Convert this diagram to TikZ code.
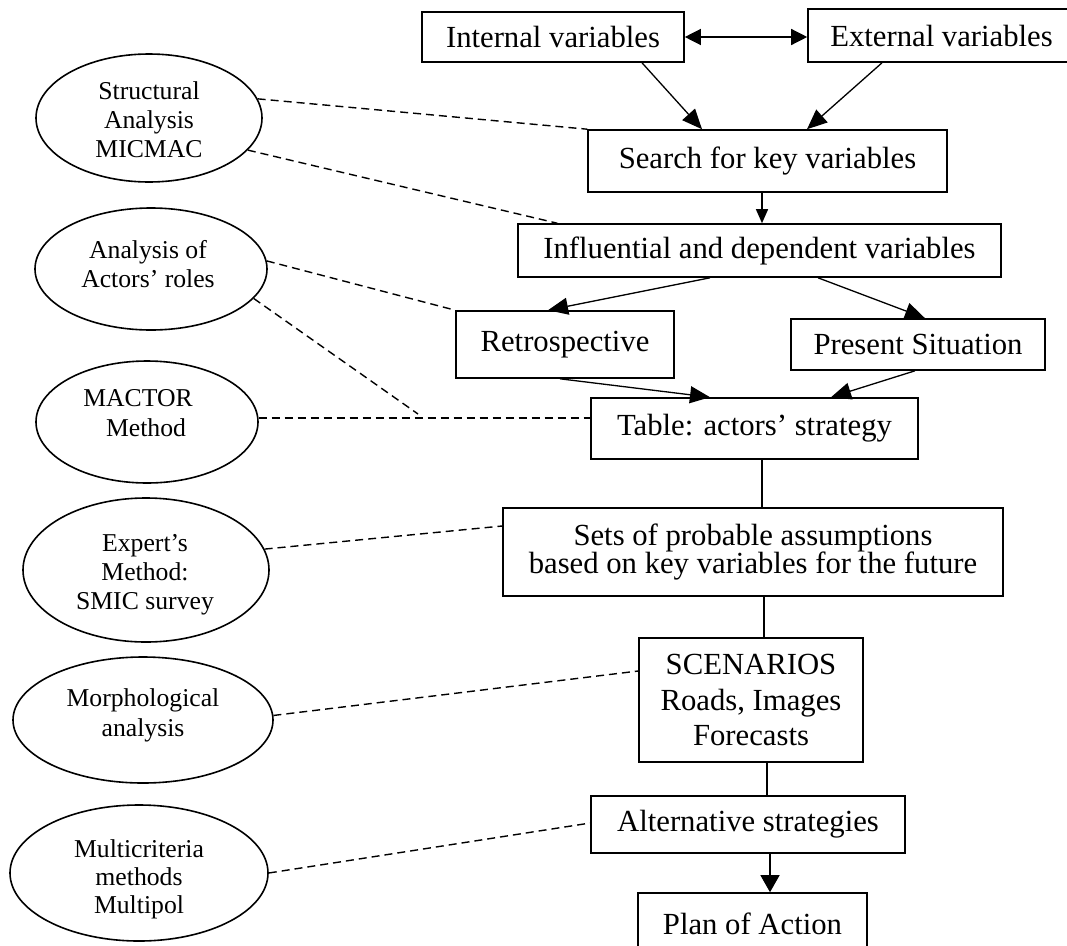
\documentclass[tikz,border=0pt]{standalone}
\usepackage{fontspec}
\setmainfont{Liberation Serif}
\usetikzlibrary{arrows.meta,calc,shapes.geometric}
\newcommand\mytightlines{\lineskiplimit=-30pt\relax}
\begin{document}
\begin{tikzpicture}[x=1pt,y=-1pt,
  box/.style={draw,line width=1.6pt,inner sep=0pt,align=center,font=\fontsize{30.7}{35.5}\selectfont},
  oval/.style={draw,ellipse,line width=1.6pt,inner sep=0pt},
  otext/.style={inner sep=0pt,align=center,font=\fontsize{25.7}{29}\selectfont},
  link/.style={line width=1.3pt},
  arr/.style={line width=1.3pt,-{Triangle[length=20pt,width=17pt]}},
  dashline/.style={line width=1.4pt,dash pattern=on 8pt off 5pt}]
\clip (0,0) rectangle (1067,945);
\fill[white] (0,0) rectangle (1067,945);
% flow boxes
\node[box,minimum width=262pt,minimum height=50pt] (int) at (553,37) {Internal variables};
\node[box,minimum width=267pt,minimum height=53pt] (ext) at (941.5,35.5) {External variables};
\node[box,minimum width=359pt,minimum height=62pt] (search) at (767.5,161) {Search for key variables};
\node[box,minimum width=483pt,minimum height=53pt] (infl) at (759.5,250.5) {Influential and dependent variables};
\node[box,minimum width=218pt,minimum height=67pt] (retro) at (565,344.5) {Retrospective};
\node[box,minimum width=254pt,minimum height=51pt] (pres) at (918,344.5) {Present Situation};
\node[box,minimum width=327pt,minimum height=61pt] (table) at (754.5,428.5) {Table: actors’ strategy};
\node[box,minimum width=500pt,minimum height=88pt,font={\fontsize{30.7}{28}\selectfont\mytightlines}] (sets) at (753,552) {Sets of probable assumptions\\based on key variables for the future};
\node[box,minimum width=224pt,minimum height=124pt] (scen) at (751,700) {SCENARIOS\\Roads, Images\\Forecasts};
\node[box,minimum width=314pt,minimum height=57pt] (alt) at (748,824.5) {Alternative strategies};
\node[box,minimum width=229pt,minimum height=62pt] (plan) at (752.5,924) {Plan of Action};
% method ellipses
\node[oval,minimum width=226pt,minimum height=128pt] (struct) at (149,118) {};
\begin{scope}
\clip (20,60) rectangle (280,157);
\node[otext] (structtxt) at (149,120) {Structural\\Analysis\\MICMAC};
\end{scope}
\node[oval,minimum width=232pt,minimum height=122pt] (analysis) at (151,269) {};
\node[otext] (analysistxt) at (148,264) {Analysis of\\Actors’ roles};
\node[oval,minimum width=222pt,minimum height=122pt] (mactor) at (147,422) {};
\node[otext,font=\fontsize{25.7}{30}\selectfont] (mactortxt) at (146,413) {\hbox{MACTOR\kern16pt}\\Method};
\node[oval,minimum width=246pt,minimum height=144pt] (expert) at (146,570) {};
\node[otext] (experttxt) at (145,575) {Expert’s\\Method:\\SMIC survey};
\node[oval,minimum width=260pt,minimum height=126pt] (morph) at (143,720) {};
\node[otext,font=\fontsize{25.7}{30}\selectfont] (morphtxt) at (143,715.5) {Morphological\\analysis};
\node[oval,minimum width=258pt,minimum height=136pt] (multi) at (139,873) {};
\node[otext,font=\fontsize{25.7}{28}\selectfont] (multitxt) at (139,879) {Multicriteria\\methods\\Multipol};
% dashed links
\draw[dashline] (struct.10) -- (search.north west);
\draw[dashline] (struct.-18) -- ([xshift=40pt]infl.north west);
\draw[dashline] (analysis.4) -- (retro.north west);
\coordinate (mj) at (418,414);
\draw[dashline] (analysis.-16) -- (mj);
\draw[dashline] (mactor.2) -- (mactor.2 -| table.west);
\draw[dashline] (expert.10) -- ([yshift=26pt]sets.west);
\draw[dashline] (morph.2) -- ([yshift=29pt]scen.west);
\draw[dashline] (multi.east) -- ([yshift=1.5pt]alt.west);
% arrows
\draw[arr,{Triangle[length=16pt,width=16pt]}-{Triangle[length=16pt,width=16pt]}] (int.east) -- (int.east -| ext.west);
\draw[arr] ([xshift=89pt]int.south) -- ([xshift=-65.5pt]search.north);
\draw[arr] ([xshift=-59.5pt]ext.south) -- ([xshift=39.5pt]search.north);
\draw[arr,-{Triangle[length=14pt,width=12pt]}] ([xshift=-5.5pt]search.south) -- ([xshift=-5.5pt]search.south |- infl.north);
\draw[arr] ([xshift=-49.5pt]infl.south) -- ([xshift=-17pt]retro.north);
\draw[arr] ([xshift=58.5pt]infl.south) -- ([xshift=7pt]pres.north);
\draw[arr] ([xshift=-5pt]retro.south) -- ([xshift=-44.5pt]table.north);
\draw[arr] ([xshift=-3pt]pres.south) -- ([xshift=76.5pt]table.north);
\draw[link] ([xshift=7.5pt]table.south) -- ([xshift=7.5pt]table.south |- sets.north);
\draw[link] ([xshift=11pt]sets.south) -- ([xshift=11pt]sets.south |- scen.north);
\draw[link] ([xshift=16pt]scen.south) -- ([xshift=16pt]scen.south |- alt.north);
\draw[arr,-{Triangle[length=17pt,width=19pt]}] ([xshift=22pt]alt.south) -- ([xshift=22pt]alt.south |- plan.north);
\end{tikzpicture}
\end{document}
